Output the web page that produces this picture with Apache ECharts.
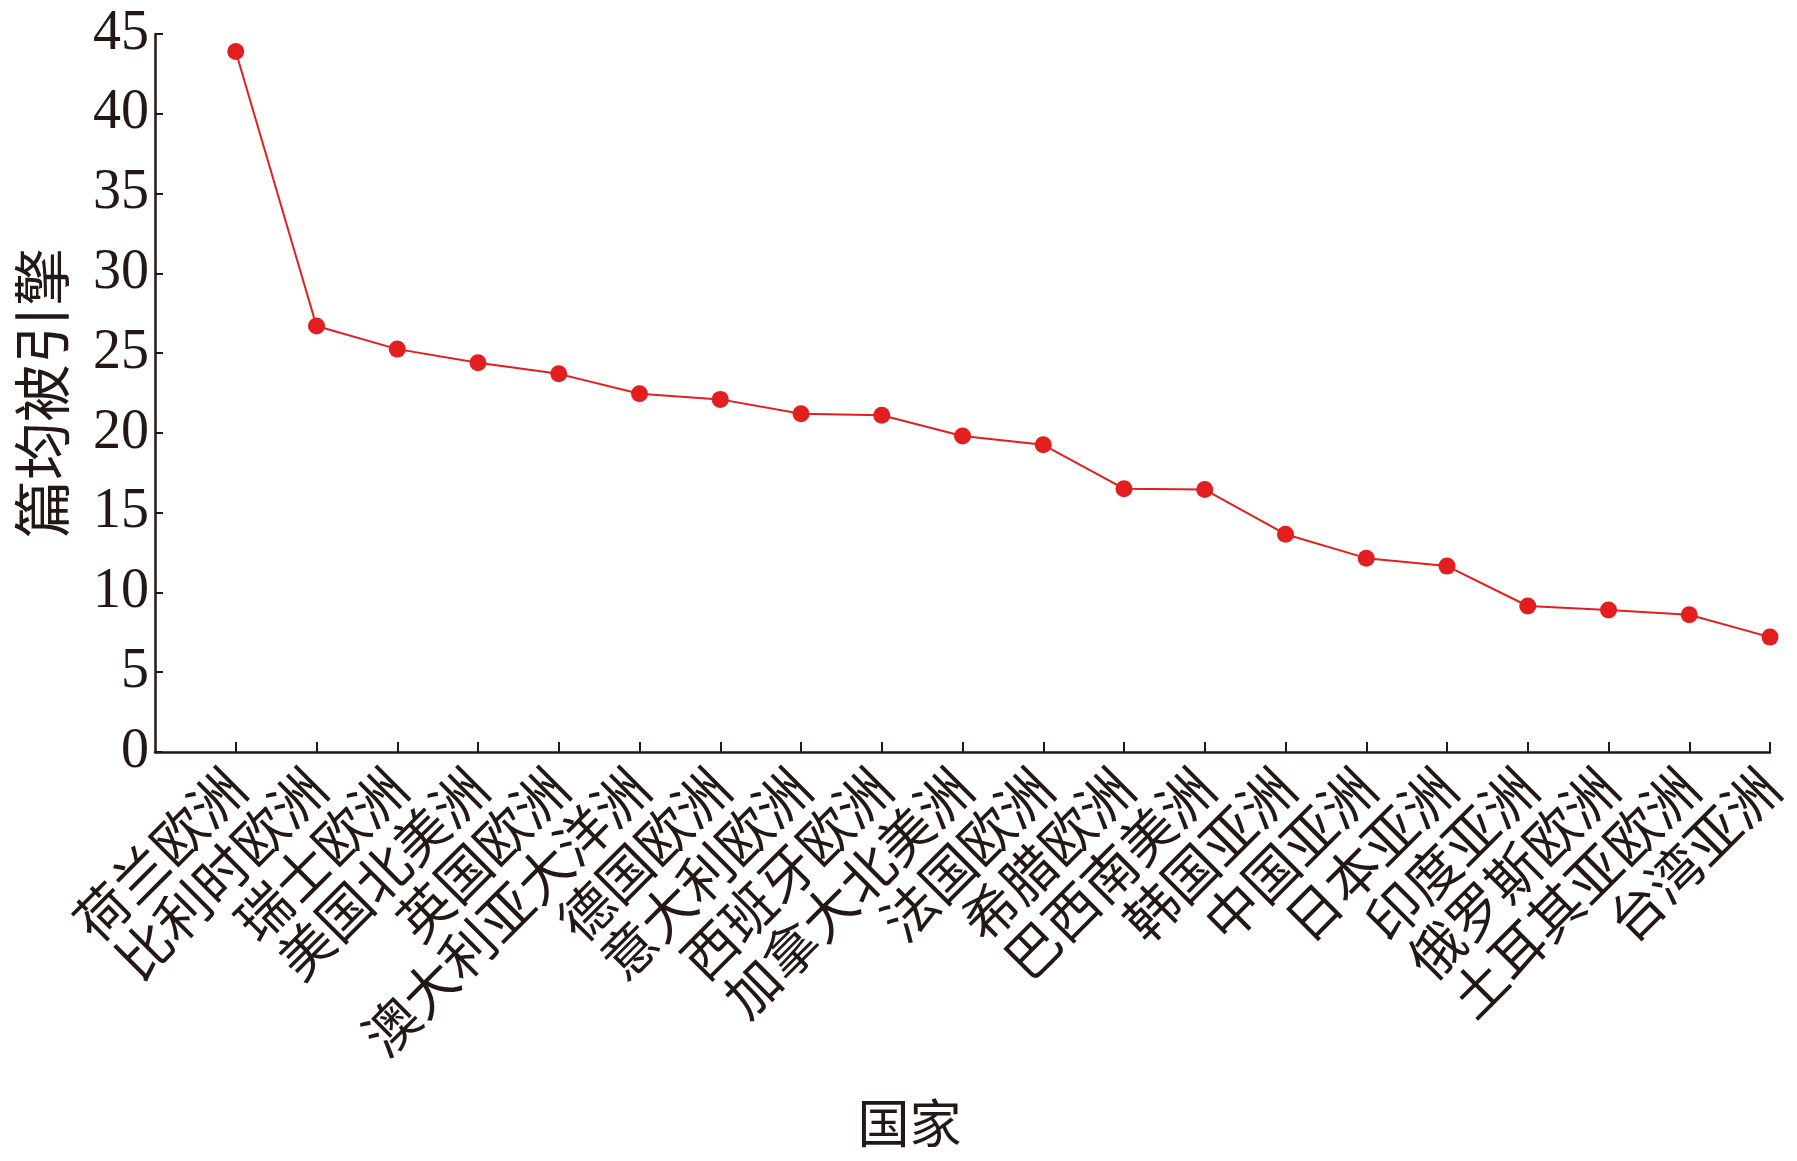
<!DOCTYPE html>
<html>
<head>
<meta charset="utf-8">
<script src="https://cdn.jsdelivr.net/npm/echarts@6/dist/echarts.min.js"></script>
<style>
html,body{margin:0;padding:0;background:#fff;}
#chart{width:1797px;height:1161px;}
</style>
</head>
<body>
<div id="chart"></div>
<script>
const countries = ['荷兰欧洲','比利时欧洲','瑞士欧洲','美国北美洲','英国欧洲','澳大利亚大洋洲','德国欧洲','意大利欧洲','西班牙欧洲','加拿大北美洲','法国欧洲','希腊欧洲','巴西南美洲','韩国亚洲','中国亚洲','日本亚洲','印度亚洲','俄罗斯欧洲','土耳其亚欧洲','台湾亚洲'];
const citations = [43.9, 26.7, 25.25, 24.4, 23.7, 22.45, 22.1, 21.2, 21.1, 19.8, 19.25, 16.5, 16.45, 13.65, 12.15, 11.65, 9.15, 8.9, 8.6, 7.2];
const yTicks = [0, 5, 10, 15, 20, 25, 30, 35, 40, 45];

const ink = '#231815';
const red = '#e31e1e';
const chart = echarts.init(document.getElementById('chart'), null, {renderer: 'canvas'});
chart.setOption({
  backgroundColor: '#fff',
  animation: false,
  grid: {left: 155, right: 27, top: 34, bottom: 409, containLabel: false},
  xAxis: {
    type: 'value',
    min: -1,
    max: countries.length - 1,
    interval: 1,
    name: '国家',
    nameLocation: 'middle',
    nameGap: 345,
    nameTextStyle: {fontFamily: 'Noto Sans CJK SC', fontSize: 52, color: ink, padding: [0, 106, 0, 0]},
    axisLine: {show: true, onZero: false, lineStyle: {color: ink, width: 2.5}},
    axisTick: {show: true, inside: true, length: 10, lineStyle: {color: ink, width: 2}},
    splitLine: {show: false},
    axisLabel: {
      rotate: 45,
      margin: 26,
      fontFamily: 'Noto Sans CJK SC',
      fontSize: 54,
      color: ink,
      showMinLabel: false,
      formatter: function (v) { return v >= 0 ? (countries[v] || '') : ''; }
    }
  },
  yAxis: {
    type: 'value',
    min: yTicks[0],
    max: yTicks[yTicks.length - 1],
    interval: 5,
    name: '篇均被引擎',
    nameLocation: 'middle',
    nameGap: 84,
    nameRotate: 90,
    nameTextStyle: {fontFamily: 'Noto Sans CJK SC', fontSize: 58, color: ink},
    axisLine: {show: true, onZero: false, lineStyle: {color: ink, width: 2.5}},
    axisTick: {show: true, inside: true, length: 8, lineStyle: {color: ink, width: 2}},
    splitLine: {show: false},
    axisLabel: {
      margin: 6,
      fontFamily: 'Liberation Serif',
      fontSize: 56,
      color: ink
    }
  },
  series: [{
    type: 'line',
    data: citations.map((v, i) => [i, v]),
    symbol: 'circle',
    symbolSize: 17,
    lineStyle: {color: red, width: 2},
    itemStyle: {color: red},
    clip: false
  }]
});
</script>
</body>
</html>
